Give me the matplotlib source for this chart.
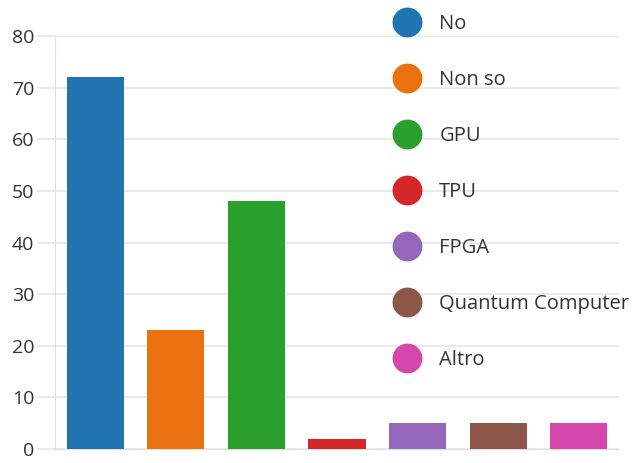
import matplotlib
matplotlib.use("Agg")
import matplotlib.pyplot as plt
from matplotlib.lines import Line2D

# Categories and counts
labels = ["No", "Non so", "GPU", "TPU", "FPGA", "Quantum Computer", "Altro"]
counts = [72, 23, 48, 2, 5, 5, 5]
colors = ["#1f74b1", "#ec7211", "#2ca02c", "#d62728", "#9467bd", "#8c564b", "#d647ad"]
yticks = [0, 10, 20, 30, 40, 50, 60, 70, 80]

plt.rcParams["font.family"] = ["Open Sans", "DejaVu Sans"]

fig = plt.figure(figsize=(6.33, 4.63), dpi=100)
ax = fig.add_axes([0.0869, 0.0302, 0.8911, 0.892])

x = list(range(len(labels)))
ax.bar(x, counts, width=0.71, color=colors, zorder=3)

ax.set_xlim(-0.5, 6.5)
ax.set_ylim(0, 80)
ax.set_yticks(yticks)
ax.set_xticks([])
ax.grid(axis="y", color="#e6e6e6", linewidth=1.2, zorder=0)
ax.tick_params(axis="y", length=13, color="#e6e6e6", width=1.2,
               labelsize=14, labelcolor="#333333", pad=2)
for side in ["top", "right"]:
    ax.spines[side].set_visible(False)
ax.spines["left"].set_color("#e0e0e0")
ax.spines["bottom"].set_color("#e0e0e0")

# Legend with round markers, drawn over the plot area
handles = [Line2D([], [], linestyle="none", marker="o", markersize=20.5,
                  markerfacecolor=c, markeredgecolor=c) for c in colors]
fig.legend(handles, labels, loc="upper left", bbox_to_anchor=(0.597, 1.009),
           frameon=False, fontsize=14.5, labelspacing=1.785, handletextpad=1.05,
           handlelength=1.1, labelcolor="#333333")

fig.savefig("out.png", dpi=100)
